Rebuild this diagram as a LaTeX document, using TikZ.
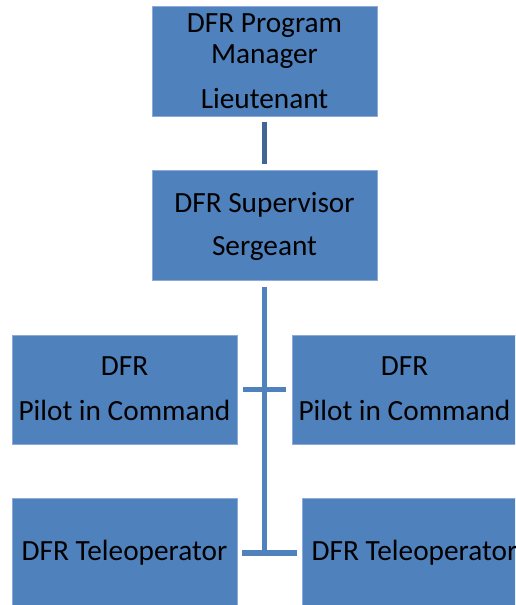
\documentclass[tikz,border=0pt]{standalone}
\usepackage{fontspec}
\setmainfont{Carlito}
\definecolor{boxblue}{HTML}{4F81BD}
\definecolor{boxedge}{HTML}{8EAADB}
\definecolor{topline}{HTML}{3F6696}
\begin{document}
\begin{tikzpicture}[x=1pt,y=-1pt,
  orgbox/.style={rectangle, fill=boxblue, draw=boxedge, line width=0.8pt,
    minimum width=225pt, minimum height=110pt, inner sep=0pt},
  lbl/.style={anchor=base, inner sep=0pt, font=\fontsize{29.3}{35}\selectfont, text=black},
  conn/.style={draw=boxblue, line width=5.5pt},
  topconn/.style={draw=topline, line width=5.5pt}]
\useasboundingbox (0,0) rectangle (515,605);
\clip (0,0) rectangle (515,605);
\node[orgbox] (pm) at (264.5,61) {};
\node[orgbox] (sup) at (264.5,225) {};
\node[orgbox, minimum height=109pt] (pilotL) at (124.5,389.5) {};
\node[orgbox, minimum height=109pt] (pilotR) at (404.5,389.5) {};
\node[orgbox] (teleL) at (124.5,553) {};
\node[orgbox] (teleR) at (414.5,553) {};
% texts
\node[lbl] (pm1) at (264.5,32) {DFR Program};
\node[lbl] (pm2) at (264.5,63) {Manager};
\node[lbl] (pm3) at (264.5,108) {Lieutenant};
\node[lbl] (sup1) at (264.5,212) {DFR Supervisor};
\node[lbl] (sup2) at (264.5,255) {Sergeant};
\node[lbl] (pl1) at (124.5,375) {DFR};
\node[lbl] (pl2) at (124.5,420) {Pilot in Command};
\node[lbl] (pr1) at (404.5,375) {DFR};
\node[lbl] (pr2) at (404.5,420) {Pilot in Command};
\node[lbl] (tl1) at (124.5,560) {DFR Teleoperator};
\node[lbl] (tr1) at (414.5,560) {DFR Teleoperator};
% connectors
\draw[topconn, shorten <=6pt, shorten >=6pt] (pm.south) -- (sup.north);
\coordinate (jb) at (sup.south |- teleL.east);
\draw[conn, shorten <=7pt] (sup.south) -- ([yshift=-2.75pt]jb);
\draw[conn, shorten <=6pt, shorten >=6pt] (pilotL.east) -- (pilotR.west);
\draw[conn, shorten <=5pt, shorten >=5pt] (teleL.east) -- (teleR.west);
\end{tikzpicture}
\end{document}
